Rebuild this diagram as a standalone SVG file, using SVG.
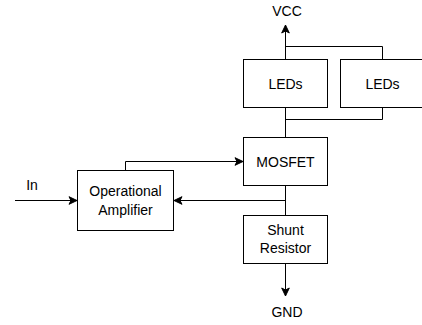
<svg xmlns="http://www.w3.org/2000/svg" width="422" height="325" viewBox="0 0 422 325">
<style>
.box{fill:#fff;stroke:#000;stroke-width:1}
.ln{fill:none;stroke:#000;stroke-width:1}
text{font-family:"Liberation Sans",Arial,Helvetica,sans-serif;font-size:14px;fill:#000;text-anchor:middle}
</style>
<defs>
<marker id="arr" markerUnits="userSpaceOnUse" markerWidth="10" markerHeight="10" viewBox="0 0 10 10" refX="9" refY="5" orient="auto">
<path d="M1,1.2 L9,5 L1,8.8 L3,5 Z" fill="#000" stroke="#000" stroke-width="1"/>
</marker>
</defs>
<rect width="422" height="325" fill="#fff"/>
<g id="connectors">
<path class="ln" d="M285.5,59.5 V25" marker-end="url(#arr)"/>
<path class="ln" d="M285.5,46.5 H382.5 V59.5"/>
<path class="ln" d="M285.5,107.5 V119.5 H382.5 V107.5"/>
<path class="ln" d="M285.5,107.5 V137.5"/>
<path class="ln" d="M125.5,170.5 V161.5 H243" marker-end="url(#arr)"/>
<path class="ln" d="M15,200.5 H77" marker-end="url(#arr)"/>
<path class="ln" d="M285.5,185.5 V215.5"/>
<path class="ln" d="M285.5,200.5 H174" marker-end="url(#arr)"/>
<path class="ln" d="M285.5,263.5 V296" marker-end="url(#arr)"/>
</g>
<g id="vcc"><text x="287" y="16">VCC</text></g>
<g id="leds1"><rect class="box" x="243.5" y="59.5" width="84" height="48"/><text x="285.5" y="88.5">LEDs</text></g>
<g id="leds2"><rect class="box" x="340.5" y="59.5" width="84" height="48"/><text x="382.5" y="88.5">LEDs</text></g>
<g id="mosfet"><rect class="box" x="243.5" y="137.5" width="84" height="48"/><text x="285.5" y="166.5">MOSFET</text></g>
<g id="opamp"><rect class="box" x="77.5" y="170.5" width="96" height="60"/><text x="125.5" y="196">Operational</text><text x="125.5" y="215">Amplifier</text></g>
<g id="in"><text x="32" y="190">In</text></g>
<g id="shunt"><rect class="box" x="243.5" y="215.5" width="84" height="48"/><text x="285.5" y="235">Shunt</text><text x="285.5" y="253">Resistor</text></g>
<g id="gnd"><text x="287" y="317">GND</text></g>
</svg>
